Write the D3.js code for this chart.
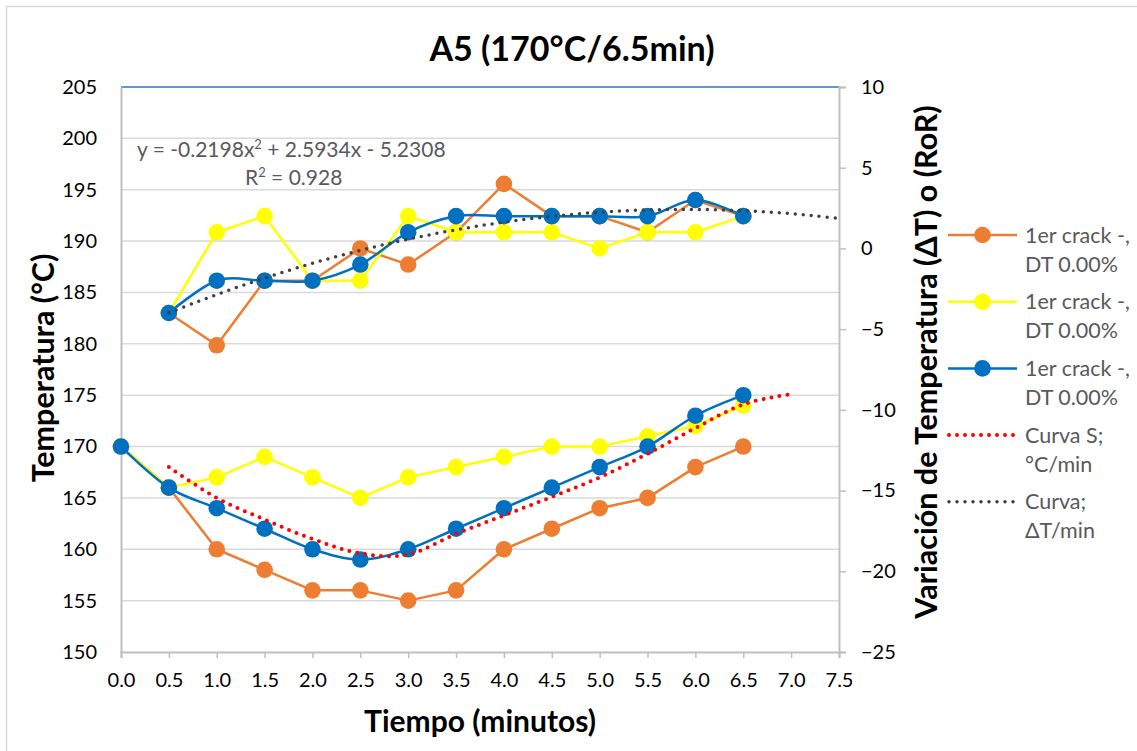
<!DOCTYPE html>
<html><head><meta charset="utf-8">
<script src="https://cdn.jsdelivr.net/npm/d3@7"></script>
<style>
html,body{margin:0;padding:0;background:#fff;}
svg{display:block;font-family:Lato,"Open Sans",sans-serif;}
</style></head>
<body><svg id="chart" width="1137" height="751"></svg>
<script>
// ---------------- DATA ----------------
const timeTemp = [0.0,0.5,1.0,1.5,2.0,2.5,3.0,3.5,4.0,4.5,5.0,5.5,6.0,6.5];
const tempOrange = [170,166,160,158,156,156,155,156,160,162,164,165,168,170];
const tempYellow = [170,166,167,169,167,165,167,168,169,170,170,171,172,174];
const tempBlue   = [170,166,164,162,160,159,160,162,164,166,168,170,173,175];

const timeRoR = [0.5,1.0,1.5,2.0,2.5,3.0,3.5,4.0,4.5,5.0,5.5,6.0,6.5];
const rorOrange = [-4,-6,-2,-2,0,-1,1,4,2,2,1,3,2];
const rorYellow = [-4,1,2,-2,-2,2,1,1,1,0,1,1,2];
const rorBlue   = [-4,-2,-2,-2,-1,1,2,2,2,2,2,3,2];

const timeCurvaS = [0.5,1.0,1.5,2.0,2.5,3.0,3.5,4.0,4.5,5.0,5.5,6.0,6.5,7.0];
const curvaS = [168,165,162.9,161,159.6,159.5,161.5,163.3,165.1,167,169.3,171.8,174.1,175.1];

// polynomial trendline shown on chart: y = a x^2 + b x + c
const trendCoef = [-0.2198, 2.5934, -5.2308];
const trendRange = [0.5, 7.5];

const xTicks = [0,0.5,1,1.5,2,2.5,3,3.5,4,4.5,5,5.5,6,6.5,7,7.5];
const yLeftTicks = [150,155,160,165,170,175,180,185,190,195,200,205];
const yRightTicks = [-25,-20,-15,-10,-5,0,5,10];

const legendLabels = [["1er crack -,","DT 0.00%"],["1er crack -,","DT 0.00%"],["1er crack -,","DT 0.00%"],["Curva S;","°C/min"],["Curva;","ΔT/min"]];

// ---------------- CHART ----------------
const svg = d3.select("#chart");
const X0=121, X1=839, Y0=87, Y1=652;
const x = d3.scaleLinear().domain([0,7.5]).range([X0,X1]);
const yL = d3.scaleLinear().domain([150,205]).range([Y1,Y0]);
const yR = d3.scaleLinear().domain([-25,10]).range([Y1,Y0]);

const C = {orange:"#ed7d31", yellow:"#ffff00", blue:"#0070c0", red:"#ff0000", dark:"#404040", grid:"#d9d9d9", axis:"#bfbfbf", text:"#595959"};

// outer border
svg.append("rect").attr("x",6.5).attr("y",6.5).attr("width",1140).attr("height",760)
  .attr("fill","none").attr("stroke","#d9d9d9").attr("stroke-width",1.5);

// gridlines
svg.append("g").selectAll("line").data(yLeftTicks.filter(d=>d>150&&d<205)).join("line")
  .attr("x1",X0).attr("x2",X1).attr("y1",d=>yL(d)).attr("y2",d=>yL(d))
  .attr("stroke",C.grid).attr("stroke-width",1.5);

// top border of plot (blue)
svg.append("line").attr("x1",X0).attr("x2",X1).attr("y1",Y0).attr("y2",Y0)
  .attr("stroke","#5b9bd5").attr("stroke-width",2);

// left axis
const gL = svg.append("g").attr("transform",`translate(${X0},0)`)
  .call(d3.axisLeft(yL).tickValues(yLeftTicks).tickSize(0).tickPadding(24).tickFormat(d3.format("d")));
gL.select(".domain").attr("stroke",C.axis).attr("stroke-width",2);
gL.selectAll("text").attr("font-size",20).attr("fill","#000").attr("font-family","Lato");

// right axis
const gR = svg.append("g").attr("transform",`translate(${X1},0)`)
  .call(d3.axisRight(yR).tickValues(yRightTicks).tickSize(7).tickPadding(15).tickFormat(d3.format("d")));
gR.select(".domain").attr("stroke",C.axis).attr("stroke-width",2);
gR.selectAll(".tick line").attr("stroke",C.axis).attr("stroke-width",1.5);
gR.selectAll("text").attr("font-size",20).attr("fill","#000").attr("font-family","Lato");

// bottom axis
const gB = svg.append("g").attr("transform",`translate(0,${Y1})`)
  .call(d3.axisBottom(x).tickValues(xTicks).tickSize(6).tickPadding(15).tickFormat(d3.format(".1f")));
gB.select(".domain").attr("stroke",C.axis).attr("stroke-width",2);
gB.selectAll(".tick line").attr("stroke",C.axis).attr("stroke-width",1.5);
gB.selectAll("text").attr("font-size",20).attr("fill","#000").attr("font-family","Lato");

// series helpers
function drawSeries(xs, ys, yScale, color, curve){
  const pts = xs.map((t,i)=>[t,ys[i]]);
  const line = d3.line().x(d=>x(d[0])).y(d=>yScale(d[1])).curve(curve||d3.curveLinear);
  svg.append("path").datum(pts).attr("d",line).attr("fill","none")
    .attr("stroke",color).attr("stroke-width",2.5).attr("stroke-linejoin","round");
  svg.append("g").selectAll("circle").data(pts).join("circle")
    .attr("cx",d=>x(d[0])).attr("cy",d=>yScale(d[1])).attr("r",8.3).attr("fill",color);
}
function drawDotted(pts, yScale, color, width){
  const line = d3.line().x(d=>x(d[0])).y(d=>yScale(d[1])).curve(d3.curveCatmullRom.alpha(0));
  svg.append("path").datum(pts).attr("d",line).attr("fill","none")
    .attr("stroke",color).attr("stroke-width",width).attr("stroke-linecap","round")
    .attr("stroke-dasharray","0 8");
}

const smooth = d3.curveCatmullRom.alpha(0);
// temperature (primary axis)
drawSeries(timeTemp, tempOrange, yL, C.orange);
drawSeries(timeTemp, tempYellow, yL, C.yellow);
drawSeries(timeTemp, tempBlue, yL, C.blue, smooth);
drawDotted(timeCurvaS.map((t,i)=>[t,curvaS[i]]), yL, C.red, 4);
// RoR (secondary axis)
drawSeries(timeRoR, rorOrange, yR, C.orange);
drawSeries(timeRoR, rorYellow, yR, C.yellow);
drawSeries(timeRoR, rorBlue, yR, C.blue, smooth);
// trendline
const trendPts = d3.range(trendRange[0], trendRange[1]+0.0001, 0.25)
  .map(t=>[t, trendCoef[0]*t*t + trendCoef[1]*t + trendCoef[2]]);
drawDotted(trendPts, yR, C.dark, 3.5);

// trendline label
const eq = svg.append("text").attr("x",137).attr("y",157).attr("font-size",21).attr("fill",C.text);
eq.append("tspan").text("y = -0.2198x");
eq.append("tspan").text("2").attr("font-size",13).attr("dy",-8);
eq.append("tspan").text(" + 2.5934x - 5.2308").attr("dy",8);
const r2 = svg.append("text").attr("x",245).attr("y",185).attr("font-size",21).attr("fill",C.text);
r2.append("tspan").text("R");
r2.append("tspan").text("2").attr("font-size",13).attr("dy",-8);
r2.append("tspan").text(" = 0.928").attr("dy",8);

// title & axis titles
svg.append("text").attr("x",572).attr("y",61).attr("text-anchor","middle")
  .attr("font-size",34).attr("font-weight","bold").attr("fill","#000").text("A5 (170°C/6.5min)");
svg.append("text").attr("x",480).attr("y",732).attr("text-anchor","middle")
  .attr("font-size",30).attr("font-weight","bold").attr("fill","#000").text("Tiempo (minutos)");
svg.append("text").attr("transform","translate(54,368) rotate(-90)").attr("text-anchor","middle")
  .attr("font-size",30.5).attr("font-weight","bold").attr("fill","#000").text("Temperatura (°C)");
svg.append("text").attr("transform","translate(937,362) rotate(-90)").attr("text-anchor","middle")
  .attr("font-size",30.5).attr("font-weight","bold").attr("fill","#000").text("Variación de Temperatura (ΔT) o (RoR)");

// legend
const legColors = [C.orange,C.yellow,C.blue,C.red,C.dark];
const legY0 = 235, legStep = 66.7;
legColors.forEach((col,i)=>{
  const yy = legY0 + i*legStep;
  const g = svg.append("g");
  if(i<3){
    g.append("line").attr("x1",948).attr("x2",1017).attr("y1",yy).attr("y2",yy).attr("stroke",col).attr("stroke-width",2.5);
    g.append("circle").attr("cx",982.5).attr("cy",yy).attr("r",8.3).attr("fill",col);
  } else {
    g.append("line").attr("x1",949).attr("x2",1016).attr("y1",yy).attr("y2",yy).attr("stroke",col)
      .attr("stroke-width", i===3?4:3.5).attr("stroke-linecap","round").attr("stroke-dasharray","0 8");
  }
  g.append("text").attr("x",1025).attr("y",yy+7.5).attr("font-size",21.5).attr("fill",C.text).text(legendLabels[i][0]);
  g.append("text").attr("x",1025).attr("y",yy+36.5).attr("font-size",21.5).attr("fill",C.text).text(legendLabels[i][1]);
});
</script></body></html>
